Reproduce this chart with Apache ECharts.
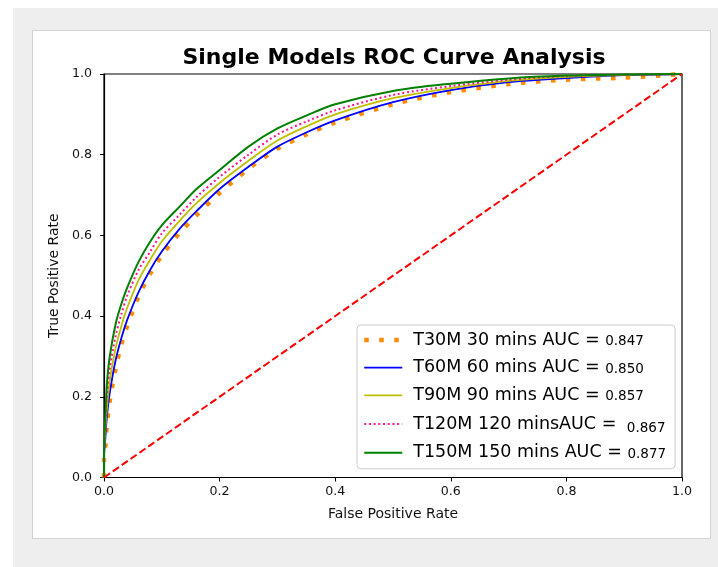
<!DOCTYPE html>
<html>
<head>
<meta charset="utf-8">
<script src="https://cdn.jsdelivr.net/npm/echarts@6/dist/echarts.min.js"></script>
<style>
  html, body { margin: 0; padding: 0; background: #ffffff; }
  #bg { position: absolute; left: 13px; top: 8px; width: 705px; height: 559px; background: #eeeeee; }
  #panel { position: absolute; left: 32px; top: 30px; width: 677px; height: 507px; background: #ffffff; border: 1px solid #d4d4d4; }
  #chart { position: absolute; left: 0; top: 0; width: 718px; height: 567px; }
</style>
</head>
<body>
<div id="bg"></div>
<div id="panel"></div>
<div id="chart"></div>
<script>
const titleText = 'Single Models ROC Curve Analysis';
const xAxisName = 'False Positive Rate';
const yAxisName = 'True Positive Rate';
const xTicks = [0, 0.2, 0.4, 0.6, 0.8, 1.0];
const yTicks = [0, 0.2, 0.4, 0.6, 0.8, 1.0];

const seriesNames = ['T30M 30 mins AUC = ', 'T60M 60 mins AUC = ', 'T90M 90 mins AUC = ', 'T120M 120 minsAUC = ', 'T150M 150 mins AUC = '];
const aucValues = ['0.847', '0.850', '0.857', '0.867', '0.877'];

const fpr = [0, 0, 0.002, 0.005, 0.01, 0.02, 0.03, 0.04, 0.06, 0.08, 0.1, 0.13, 0.16, 0.2, 0.25, 0.3, 0.35, 0.4, 0.5, 0.6, 0.7, 0.8, 0.9, 1.0];
const tprT30 = [0, 0.04, 0.07, 0.13, 0.19, 0.27, 0.33, 0.375, 0.45, 0.505, 0.55, 0.605, 0.65, 0.705, 0.765, 0.815, 0.85, 0.88, 0.925, 0.955, 0.975, 0.986, 0.991, 1.0];
const tprT60 = [0, 0.05, 0.09, 0.15, 0.21, 0.29, 0.345, 0.39, 0.46, 0.515, 0.56, 0.615, 0.66, 0.715, 0.77, 0.82, 0.855, 0.885, 0.93, 0.96, 0.98, 0.99, 0.997, 1.0];
const tprT90 = [0, 0.06, 0.11, 0.17, 0.24, 0.32, 0.375, 0.42, 0.49, 0.54, 0.585, 0.635, 0.68, 0.73, 0.785, 0.835, 0.87, 0.9, 0.94, 0.965, 0.983, 0.993, 0.998, 1.0];
const tprT120 = [0, 0.06, 0.12, 0.2, 0.27, 0.35, 0.405, 0.45, 0.515, 0.56, 0.605, 0.65, 0.695, 0.745, 0.8, 0.85, 0.882, 0.91, 0.948, 0.97, 0.986, 0.995, 0.998, 1.0];
const tprT150 = [0, 0.07, 0.14, 0.23, 0.3, 0.38, 0.43, 0.47, 0.535, 0.585, 0.625, 0.67, 0.715, 0.762, 0.82, 0.865, 0.897, 0.925, 0.958, 0.976, 0.989, 0.996, 0.999, 1.0];
const diagX = [0, 1];
const diagY = [0, 1];

const colors = ['#ff8c00', '#0000ff', '#bfbf00', '#ff1493', '#008000'];
const tprAll = [tprT30, tprT60, tprT90, tprT120, tprT150];
const lineStyles = [
  { width: 4.5, type: [4.5, 10.5], cap: 'butt' },
  { width: 1.8, type: 'solid' },
  { width: 1.8, type: 'solid' },
  { width: 2, type: [2, 2.7], cap: 'butt' },
  { width: 2, type: 'solid' }
];

function pairs(xs, ys) { return xs.map((x, i) => [x, ys[i]]); }

const series = [{
  name: 'diag', type: 'line', data: pairs(diagX, diagY), symbol: 'none',
  lineStyle: { color: '#ff0000', width: 2, type: [7.4, 3.4] }, silent: true, z: 3
}];
seriesNames.forEach((n, i) => {
  series.push({
    name: n, type: 'line', data: pairs(fpr, tprAll[i]), symbol: 'none', smooth: 0.3,
    color: colors[i],
    lineStyle: Object.assign({ color: colors[i] }, lineStyles[i]), z: 2
  });
});

const chart = echarts.init(document.getElementById('chart'), null, { renderer: 'canvas' });
chart.setOption({
  animation: false,
  backgroundColor: 'transparent',
  title: {
    text: titleText, left: 389, top: 42, textAlign: 'center',
    textStyle: { fontFamily: 'DejaVu Sans', fontWeight: 'bold', fontSize: 22, color: '#000' }
  },
  grid: { left: 104, top: 74, right: 36, bottom: 89.5, show: true, borderColor: '#000', borderWidth: 1.2, backgroundColor: 'transparent' },
  legend: {
    orient: 'vertical', left: 357, top: 325,
    data: seriesNames.map((n, i) => ({
      name: n,
      lineStyle: Object.assign({ color: colors[i] }, lineStyles[i]),
      itemStyle: { opacity: 0 }
    })),
    itemWidth: 38, itemHeight: 14, itemGap: 7.7,
    padding: [5, 9, 6, 5],
    backgroundColor: 'rgba(255,255,255,0.85)', borderColor: '#cccccc', borderWidth: 1, borderRadius: 4,
    formatter: function (name) {
      const i = seriesNames.indexOf(name);
      return name + (i === 3 ? '{m|' : '{n|') + aucValues[i] + '}';
    },
    textStyle: {
      fontFamily: 'DejaVu Sans', fontSize: 17.5, color: '#000', lineHeight: 20, padding: [0, 0, 0, 6],
      rich: {
        n: { fontFamily: 'DejaVu Sans', fontSize: 13.5, color: '#000', lineHeight: 20, verticalAlign: 'middle', padding: [3, 0, 0, 0] },
        m: { fontFamily: 'DejaVu Sans', fontSize: 13.5, color: '#000', lineHeight: 20, verticalAlign: 'middle', padding: [8, 0, 0, 5] }
      }
    }
  },
  xAxis: {
    type: 'value', min: 0, max: 1, interval: 0.2,
    name: xAxisName, nameLocation: 'middle', nameGap: 30,
    nameTextStyle: { fontFamily: 'DejaVu Sans', fontSize: 14, color: '#111' },
    axisLine: { show: true, lineStyle: { color: '#000', width: 1.2 } },
    axisTick: { show: true, length: 4, lineStyle: { color: '#000', width: 1 } },
    axisLabel: { fontFamily: 'DejaVu Sans', fontSize: 12.6, color: '#111', margin: 8, formatter: v => v.toFixed(1) },
    splitLine: { show: false }
  },
  yAxis: {
    type: 'value', min: 0, max: 1, interval: 0.2,
    name: yAxisName, nameLocation: 'middle', nameGap: 42, nameRotate: 90,
    nameTextStyle: { fontFamily: 'DejaVu Sans', fontSize: 14, color: '#111' },
    axisLine: { show: true, lineStyle: { color: '#000', width: 1.2 } },
    axisTick: { show: true, length: 4, lineStyle: { color: '#000', width: 1 } },
    axisLabel: { fontFamily: 'DejaVu Sans', fontSize: 12.6, color: '#111', margin: 12, formatter: v => v.toFixed(1) },
    splitLine: { show: false }
  },
  series: series
});
</script>
</body>
</html>
